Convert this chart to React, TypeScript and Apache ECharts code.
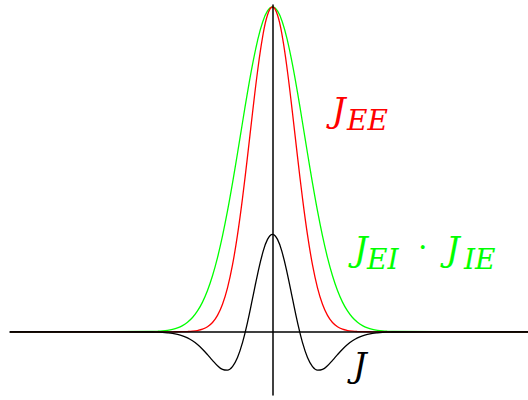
import React, { useEffect, useRef } from "react";
import * as echarts from "echarts";

// x positions (arbitrary units, 1 unit ≈ 10 px in the reference)
const xs = [
  -26.25, -12, -11.5, -11, -10.5, -10, -9.5, -9, -8.5, -8, -7.5, -7, -6.5, -6, -5.5, -5, -4.5, -4, -3.5, -3, -2.5, -2, -1.5, -1, -0.5,
  0, 0.5, 1, 1.5, 2, 2.5, 3, 3.5, 4, 4.5, 5, 5.5, 6, 6.5, 7, 7.5, 8, 8.5, 9, 9.5, 10, 10.5, 11, 11.5, 12, 25.55,
];

// J_EE (red, narrow)
const jEE = [
  0, 0, 0, 0, 0, 0.00005, 0.00013, 0.00034, 0.0008, 0.0018, 0.0039, 0.0079, 0.0154, 0.0286, 0.0504, 0.0847, 0.1353, 0.2059, 0.2982, 0.4111, 0.5394, 0.6736, 0.8007, 0.906, 0.9756,
  1, 0.9756, 0.906, 0.8007, 0.6736, 0.5394, 0.4111, 0.2982, 0.2059, 0.1353, 0.0847, 0.0504, 0.0286, 0.0154, 0.0079, 0.0039, 0.0018, 0.0008, 0.00034, 0.00013, 0.00005, 0, 0, 0, 0, 0,
];

// J_EI · J_IE (green, wide)
const jEIIE = [
  0, 0.0009, 0.0016, 0.0027, 0.0046, 0.0076, 0.0122, 0.0192, 0.0294, 0.0439, 0.0642, 0.0914, 0.1271, 0.1724, 0.2283, 0.295, 0.372, 0.4578, 0.5498, 0.6444, 0.737, 0.8226, 0.896, 0.9524, 0.9879,
  1, 0.9879, 0.9524, 0.896, 0.8226, 0.737, 0.6444, 0.5498, 0.4578, 0.372, 0.295, 0.2283, 0.1724, 0.1271, 0.0914, 0.0642, 0.0439, 0.0294, 0.0192, 0.0122, 0.0076, 0.0046, 0.0027, 0.0016, 0.0009, 0,
];

// J (black, difference)
const jNet = [
  0, -0.0006, -0.0011, -0.0018, -0.0031, -0.005, -0.0081, -0.0125, -0.0189, -0.0278, -0.0393, -0.0537, -0.0703, -0.088, -0.1043, -0.1158, -0.1183, -0.1073, -0.0794, -0.0333, 0.0292, 0.1021, 0.1763, 0.2406, 0.2845,
  0.3, 0.2845, 0.2406, 0.1763, 0.1021, 0.0292, -0.0333, -0.0794, -0.1073, -0.1183, -0.1158, -0.1043, -0.088, -0.0703, -0.0537, -0.0393, -0.0278, -0.0189, -0.0125, -0.0081, -0.005, -0.0031, -0.0018, -0.0011, -0.0006, 0,
];

const pairs = (ys: number[]) => xs.map((x, i) => [x, ys[i]]);

const mathFont = "'DejaVu Serif', serif";

export default function App() {
  const ref = useRef<HTMLDivElement>(null);
  useEffect(() => {
    if (!ref.current) return;
    const chart = echarts.init(ref.current, null, { renderer: "svg" });
    const lineStyle = (color: string) => ({ color, width: 1.3 });
    const txt = (text: string, x: number, y: number, size: number, color: string, italic = true) => ({
      type: "text",
      x,
      y,
      z: 10,
      style: {
        text,
        fill: color,
        fontFamily: mathFont,
        fontSize: size,
        fontStyle: italic ? "italic" : "normal",
        textAlign: "left",
        textVerticalAlign: "bottom",
        align: "left",
        verticalAlign: "bottom",
      },
    });
    chart.setOption({
      animation: false,
      backgroundColor: "#ffffff",
      grid: { left: 10, right: 0, top: 5, bottom: 5, containLabel: false },
      xAxis: {
        type: "value",
        min: -26.25,
        max: 25.55,
        z: 5,
        axisLine: { show: true, onZero: true, lineStyle: { color: "#000", width: 1.6 } },
        axisTick: { show: false },
        axisLabel: { show: false },
        splitLine: { show: false },
      },
      yAxis: {
        type: "value",
        min: -0.1946,
        max: 1.0062,
        z: 5,
        axisLine: { show: true, onZero: true, lineStyle: { color: "#000", width: 1.5 } },
        axisTick: { show: false },
        axisLabel: { show: false },
        splitLine: { show: false },
      },
      series: [
        { type: "line", data: pairs(jEIIE), showSymbol: false, smooth: 0.4, lineStyle: lineStyle("#00ff00"), z: 2 },
        { type: "line", data: pairs(jEE), showSymbol: false, smooth: 0.4, lineStyle: lineStyle("#ff0000"), z: 3 },
        { type: "line", data: pairs(jNet), showSymbol: false, smooth: 0.4, lineStyle: lineStyle("#000000"), z: 4 },
      ],
      graphic: [
        txt("J", 332, 127, 34, "#ff0000"),
        txt("EE", 347, 134, 28, "#ff0000"),
        txt("J", 354, 266, 34, "#00ff00"),
        txt("EI", 367, 273, 28, "#00ff00"),
        txt("·", 418, 261, 30, "#00ff00", false),
        txt("J", 446, 266, 34, "#00ff00"),
        txt("IE", 464, 273, 28, "#00ff00"),
        txt("J", 353, 382, 34, "#000000"),
      ],
    });
    return () => chart.dispose();
  }, []);
  return <div ref={ref} style={{ position: "fixed", left: 0, top: 0, width: 528, height: 400, background: "#fff" }} />;
}
